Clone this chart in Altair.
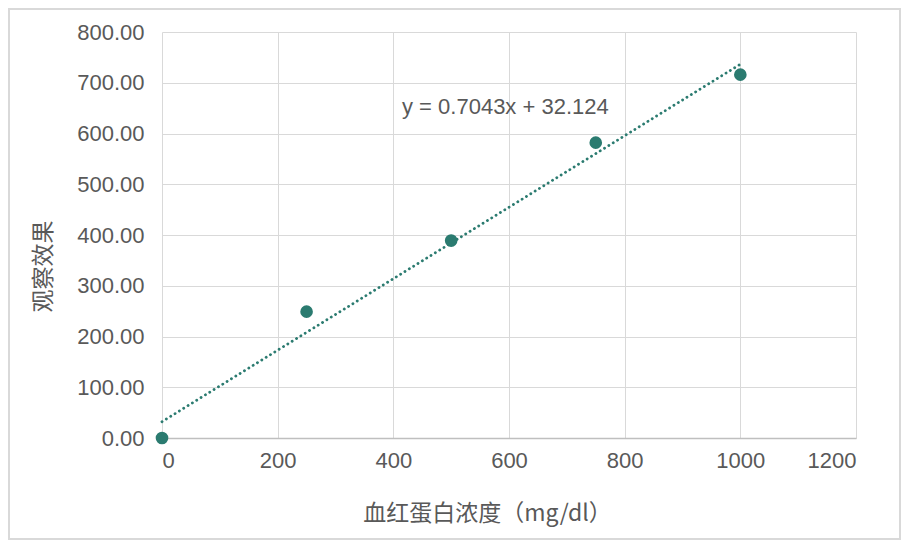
import altair as alt
import pandas as pd

# Observed data points
conc = [0, 250, 500, 750, 1000]
effect = [0, 249, 389, 582, 716]

# Trendline as shown on the chart: y = 0.7043x + 32.124
trend_x = [0, 1000]
slope = 0.7043
intercept = 32.124
eq_label = ["y = 0.7043x + 32.124"]
eq_pos_x = [415]
eq_pos_y = [653]

x_ticks = [0, 200, 400, 600, 800, 1000, 1200]
y_ticks = [0, 100, 200, 300, 400, 500, 600, 700, 800]

pts = pd.DataFrame({"x": conc, "y": effect})
trend = pd.DataFrame({"x": trend_x})
lab = pd.DataFrame({"x": eq_pos_x, "y": eq_pos_y, "t": eq_label})

TEAL = "#2b7b70"
GREY_TXT = "#595959"

xscale = alt.Scale(domain=[0, 1200], nice=False, zero=False)
yscale = alt.Scale(domain=[0, 800], nice=False, zero=False)

xaxis = alt.Axis(
    values=x_ticks, format="d", title="血红蛋白浓度（mg/dl）", grid=True, gridColor="#d9d9d9",
    domain=True, domainColor="#bfbfbf", domainWidth=1.3, ticks=False,
    labelFont="Liberation Sans", labelFontSize=22, labelColor=GREY_TXT, labelPadding=12,
    titleFont="Noto Sans CJK SC", titleFontSize=23, titleFontWeight="normal", titleColor=GREY_TXT,
    titleX=325, titleY=75, titleBaseline="middle", titleAlign="center",
)
yaxis = alt.Axis(
    values=y_ticks, format=".2f", title="观察效果", grid=True, gridColor="#d9d9d9",
    domain=False, ticks=False,
    labelFont="Liberation Sans", labelFontSize=22, labelColor=GREY_TXT, labelPadding=18,
    titleFont="Noto Sans CJK SC", titleFontSize=23, titleFontWeight="normal", titleColor=GREY_TXT,
    titleX=-119, titleY=234, titleBaseline="middle", titleAlign="center", titleAngle=270,
)

border = alt.Chart(pd.DataFrame({"a": [0]})).mark_rect(
    fill=None, stroke="#d9d9d9", strokeWidth=2
).encode(
    x=alt.value(-153), x2=alt.value(738), y=alt.value(-23), y2=alt.value(507)
)

line = alt.Chart(trend).transform_calculate(
    y=f"{slope} * datum.x + {intercept}"
).mark_line(
    color=TEAL, strokeWidth=2.8, strokeDash=[0.1, 5], strokeCap="round"
).encode(
    x=alt.X("x:Q", scale=xscale, axis=xaxis),
    y=alt.Y("y:Q", scale=yscale, axis=yaxis),
)

points = alt.Chart(pts).mark_circle(size=160, color=TEAL, opacity=1).encode(
    x=alt.X("x:Q", scale=xscale),
    y=alt.Y("y:Q", scale=yscale),
)

text = alt.Chart(lab).mark_text(
    align="left", baseline="middle", font="Liberation Sans", fontSize=22, color=GREY_TXT
).encode(
    x=alt.X("x:Q", scale=xscale),
    y=alt.Y("y:Q", scale=yscale),
    text="t:N",
)

chart = alt.layer(border, line, points, text).properties(
    width=694, height=406,
    autosize=alt.AutoSizeParams(type="none"),
    padding={"left": 154, "top": 24, "right": 46, "bottom": 102},
    background="white",
).configure_view(stroke=None)

chart.save("out.html", embed_options={"renderer": "svg", "actions": False})
